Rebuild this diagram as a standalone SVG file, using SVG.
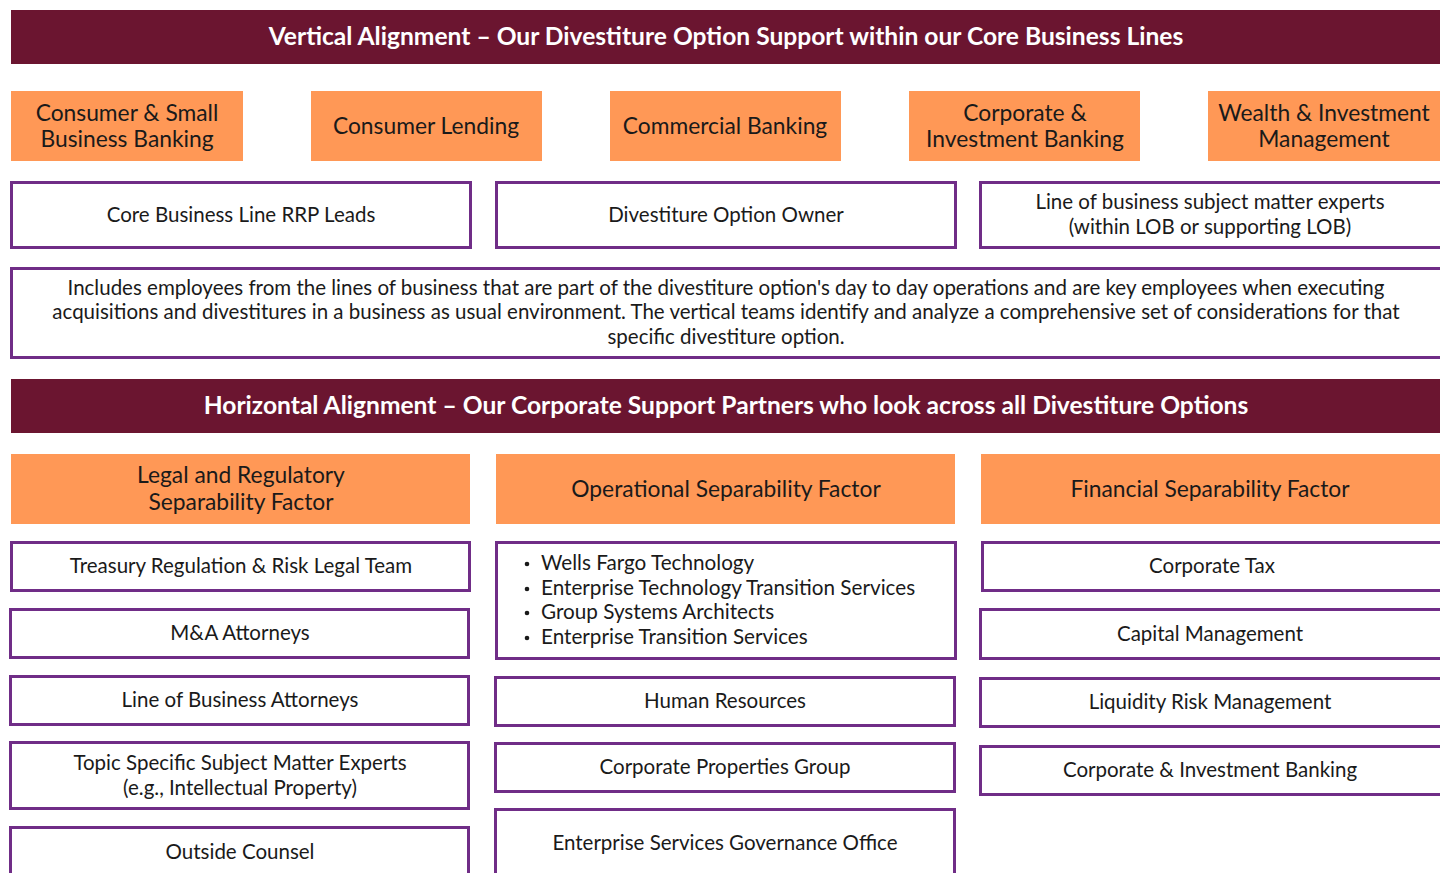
<svg xmlns="http://www.w3.org/2000/svg" width="1440" height="873" viewBox="0 0 1440 873">
<style>
.banner{fill:#6B1530}
.bt{fill:#fff;font-family:Lato,"Open Sans",sans-serif;font-weight:bold;font-size:24.6px;text-anchor:middle;dominant-baseline:central}
.org{fill:#FF9856}
.ot{fill:#1a1a1a;font-family:Lato,"Open Sans",sans-serif;font-size:22.8px;text-anchor:middle;dominant-baseline:central}
.wb{fill:#fff;stroke:#702D87;stroke-width:3}
.wt{fill:#1a1a1a;font-family:Lato,"Open Sans",sans-serif;font-size:20.5px;text-anchor:middle;dominant-baseline:central}
.lt{fill:#1a1a1a;font-family:Lato,"Open Sans",sans-serif;font-size:20.7px;dominant-baseline:central}
</style>
<rect width="1440" height="873" fill="#fff"/>
<g id="banner-vertical"><rect class="banner" x="11" y="10" width="1435" height="54"/><text class="bt" x="726" y="35">Vertical Alignment – Our Divestiture Option Support within our Core Business Lines</text></g>
<g id="lob-csbb"><rect class="org" x="11" y="91" width="232" height="70"/><text class="ot" x="127" y="112">Consumer &amp; Small</text><text class="ot" x="127" y="138">Business Banking</text></g>
<g id="lob-cl"><rect class="org" x="311" y="91" width="231" height="70"/><text class="ot" x="426" y="125">Consumer Lending</text></g>
<g id="lob-cb"><rect class="org" x="610" y="91" width="231" height="70"/><text class="ot" x="725" y="125">Commercial Banking</text></g>
<g id="lob-cib"><rect class="org" x="909" y="91" width="231" height="70"/><text class="ot" x="1025" y="112">Corporate &amp;</text><text class="ot" x="1025" y="138">Investment Banking</text></g>
<g id="lob-wim"><rect class="org" x="1208" y="91" width="240" height="70"/><text class="ot" x="1324" y="112">Wealth &amp; Investment</text><text class="ot" x="1324" y="138">Management</text></g>
<g id="rrp-leads"><rect class="wb" x="11.5" y="182.5" width="459" height="65"/><text class="wt" x="241" y="214">Core Business Line RRP Leads</text></g>
<g id="option-owner"><rect class="wb" x="496.5" y="182.5" width="459" height="65"/><text class="wt" x="726" y="214">Divestiture Option Owner</text></g>
<g id="lob-sme"><rect class="wb" x="980.5" y="182.5" width="470" height="65"/><text class="wt" x="1210" y="201">Line of business subject matter experts</text><text class="wt" x="1210" y="226">(within LOB or supporting LOB)</text></g>
<g id="description"><rect class="wb" x="11.5" y="268.5" width="1440" height="89"/><text class="wt" x="726" y="287">Includes employees from the lines of business that are part of the divestiture option's day to day operations and are key employees when executing</text><text class="wt" x="726" y="311">acquisitions and divestitures in a business as usual environment. The vertical teams identify and analyze a comprehensive set of considerations for that</text><text class="wt" x="726" y="336">specific divestiture option.</text></g>
<g id="banner-horizontal"><rect class="banner" x="11" y="379" width="1435" height="54"/><text class="bt" x="726" y="404">Horizontal Alignment – Our Corporate Support Partners who look across all Divestiture Options</text></g>
<g id="factor-legal"><rect class="org" x="11" y="454" width="459" height="70"/><text class="ot" x="241" y="474">Legal and Regulatory</text><text class="ot" x="241" y="501">Separability Factor</text></g>
<g id="factor-operational"><rect class="org" x="496" y="454" width="459" height="70"/><text class="ot" x="726" y="488">Operational Separability Factor</text></g>
<g id="factor-financial"><rect class="org" x="981" y="454" width="465" height="70"/><text class="ot" x="1210" y="488">Financial Separability Factor</text></g>
<g id="treasury"><rect class="wb" x="11.5" y="542.5" width="458" height="48"/><text class="wt" x="241" y="565">Treasury Regulation &amp; Risk Legal Team</text></g>
<g id="ma-attorneys"><rect class="wb" x="10.5" y="609.5" width="458" height="48"/><text class="wt" x="240" y="632">M&amp;A Attorneys</text></g>
<g id="lob-attorneys"><rect class="wb" x="10.5" y="676.5" width="458" height="48"/><text class="wt" x="240" y="699">Line of Business Attorneys</text></g>
<g id="topic-sme"><rect class="wb" x="10.5" y="742.5" width="458" height="66"/><text class="wt" x="240" y="762">Topic Specific Subject Matter Experts</text><text class="wt" x="240" y="787">(e.g., Intellectual Property)</text></g>
<g id="outside-counsel"><rect class="wb" x="10.5" y="827.5" width="458" height="60"/><text class="wt" x="240" y="851">Outside Counsel</text></g>
<g id="tech-list"><rect class="wb" x="496.5" y="542.5" width="459" height="116"/>
<circle cx="527" cy="564" r="2.3" fill="#1a1a1a"/><circle cx="527" cy="589" r="2.3" fill="#1a1a1a"/><circle cx="527" cy="613" r="2.3" fill="#1a1a1a"/><circle cx="527" cy="638" r="2.3" fill="#1a1a1a"/>
<text class="lt" x="541" y="562">Wells Fargo Technology</text><text class="lt" x="541" y="587">Enterprise Technology Transition Services</text><text class="lt" x="541" y="611">Group Systems Architects</text><text class="lt" x="541" y="636">Enterprise Transition Services</text></g>
<g id="hr"><rect class="wb" x="495.5" y="677.5" width="459" height="48"/><text class="wt" x="725" y="700">Human Resources</text></g>
<g id="cpg"><rect class="wb" x="495.5" y="743.5" width="459" height="48"/><text class="wt" x="725" y="766">Corporate Properties Group</text></g>
<g id="esgo"><rect class="wb" x="495.5" y="809.5" width="459" height="80"/><text class="wt" x="725" y="842">Enterprise Services Governance Office</text></g>
<g id="corp-tax"><rect class="wb" x="982.5" y="542.5" width="470" height="48"/><text class="wt" x="1212" y="565">Corporate Tax</text></g>
<g id="capital-mgmt"><rect class="wb" x="980.5" y="609.5" width="470" height="49"/><text class="wt" x="1210" y="633">Capital Management</text></g>
<g id="liquidity"><rect class="wb" x="980.5" y="678.5" width="470" height="48"/><text class="wt" x="1210" y="701">Liquidity Risk Management</text></g>
<g id="cib-fin"><rect class="wb" x="980.5" y="746.5" width="470" height="48"/><text class="wt" x="1210" y="769">Corporate &amp; Investment Banking</text></g>
<g id="connectors"></g>
</svg>
